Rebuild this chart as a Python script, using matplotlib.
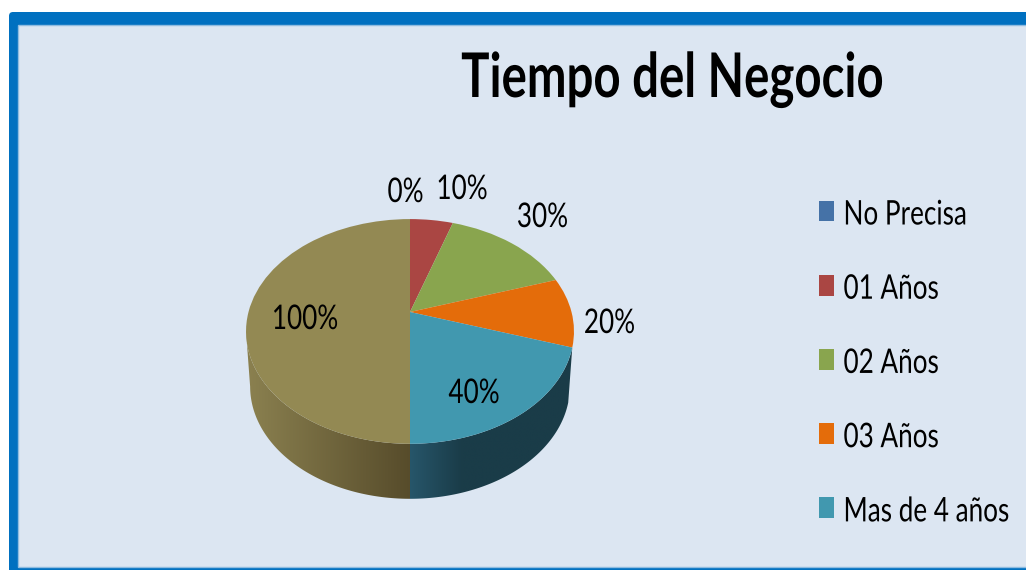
import numpy as np
import matplotlib
matplotlib.use("Agg")
import matplotlib.pyplot as plt
from matplotlib.colors import to_rgb
from matplotlib.patches import FancyBboxPatch, Polygon, Rectangle
from matplotlib.patheffects import AbstractPathEffect
from matplotlib.transforms import Affine2D, Transform

title = "Tiempo del Negocio"
categories = ["No Precisa", "01 Años", "02 Años", "03 Años", "Mas de 4 años"]
values = [0, 10, 30, 20, 40, 100]
value_labels = ["0%", "10%", "30%", "20%", "40%", "100%"]
colors = ["#4572A7", "#AA4643", "#89A54E", "#E46C0A", "#4198AF", "#938953"]

W, H = 1026, 570
plt.rcParams["font.family"] = ["Lato", "DejaVu Sans"]

CX, CY, A, B, K = 410.0, 312.0, 161.5, 109.0, 0.173
DEPTH, SHRINK = 55.0, 0.975


def project(xy, drop=0.0, shrink=1.0):
    x, y = xy[:, 0], xy[:, 1]
    d = 1 + K * y
    return np.column_stack((CX + shrink * A * x / d, CY - B * y / d + drop))


class Perspective(Transform):
    input_dims = output_dims = 2
    is_separable = False
    has_inverse = False

    def transform_non_affine(self, xy):
        return project(np.asarray(xy, dtype=float))


class TallText(AbstractPathEffect):
    """Stretches a text vertically about its baseline, as in the stretched source image."""

    def __init__(self, sy=1.3, down=0.0):
        super().__init__()
        self.sy = sy
        self.down = down

    def draw_path(self, renderer, gc, tpath, affine, rgbFace=None):
        base = affine.transform([[0, 0]])[0][1]
        stretch = Affine2D().translate(0, -base).scale(1, self.sy).translate(0, base - self.down)
        renderer.draw_path(gc, tpath, affine + stretch, rgbFace)


fig = plt.figure(figsize=(W / 100, H / 100), dpi=100, facecolor="white")
ax = fig.add_axes([0, 0, 1, 1])

# frame
ax.add_patch(FancyBboxPatch((9, 12), 1100, 650, boxstyle="round,pad=0,rounding_size=4",
                            fc="#0070C0", ec="none", zorder=0))
ax.add_patch(Rectangle((17.5, 24.5), 1100, 542.5, fc="#DCE6F2", ec="#8FBCE0", lw=1, zorder=0.5))

# side wall of the two front slices, down to the left silhouette point of the disc
fractions = np.array(values, dtype=float) / sum(values)
edges = 90 - 360 * np.concatenate(([0], np.cumsum(fractions)))
wall_ramps = {4: ("#27566A", "#1A3C48", 410, 462), 5: ("#574C2B", "#8B8150", 410, 246)}
for i, (c0, c1, x0, x1) in wall_ramps.items():
    hi, lo = edges[i], max(edges[i + 1], -170)
    th = np.radians(np.linspace(hi, lo, 120))
    disc = np.column_stack((np.cos(th), np.sin(th)))
    top, bottom = project(disc), project(disc, DEPTH, SHRINK)
    outline = np.vstack((top, bottom[::-1]))
    xmin, xmax = outline[:, 0].min(), outline[:, 0].max()
    xs = np.linspace(xmin, xmax, 256)
    t = np.clip((xs - x0) / (x1 - x0), 0, 1)[None, :, None]
    ramp = (1 - t) * np.array(to_rgb(c0)) + t * np.array(to_rgb(c1))
    clip = Polygon(outline, closed=True, transform=ax.transData, fc="none", ec="none")
    ax.add_patch(clip)
    ax.imshow(ramp, extent=(xmin, xmax, outline[:, 1].max(), outline[:, 1].min()), aspect="auto",
              origin="upper", zorder=1, clip_path=clip, interpolation="bilinear")

# top face
wedges, _ = ax.pie(values, colors=colors, startangle=90, counterclock=False, labeldistance=None,
                   wedgeprops={"transform": Perspective() + ax.transData, "zorder": 2, "lw": 0})
ax.set_aspect("auto")
ax.set_xlim(0, W)
ax.set_ylim(H, 0)
ax.axis("off")

tall = [TallText(1.3)]
fs = 18.8
label_pos = [(405.5, 202), (462, 199), (542.5, 227), (609.5, 333), (474, 403), (305, 329)]
for (lx, ly), s in zip(label_pos, value_labels):
    ax.text(lx, ly, s, fontsize=fs, ha="center", va="baseline", color="black", zorder=3,
            path_effects=tall)

ax.text(672.5, 97, title, fontsize=34.1, fontweight="bold", ha="center", va="baseline", color="black",
        zorder=3, path_effects=tall)

fpx = fs * 100 / 72
leg = ax.legend(wedges[:5], categories, loc="upper left", bbox_to_anchor=(819 / W, 1 - 200 / H),
                bbox_transform=fig.transFigure, frameon=False, fontsize=fs, borderpad=0, borderaxespad=0,
                handlelength=15 / fpx, handleheight=22 / fpx, handletextpad=9.5 / fpx, labelspacing=1.885)
for t in leg.get_texts():
    t.set_path_effects([TallText(1.3, down=4.5)])

fig.savefig("out.png", dpi=100, facecolor="white")
